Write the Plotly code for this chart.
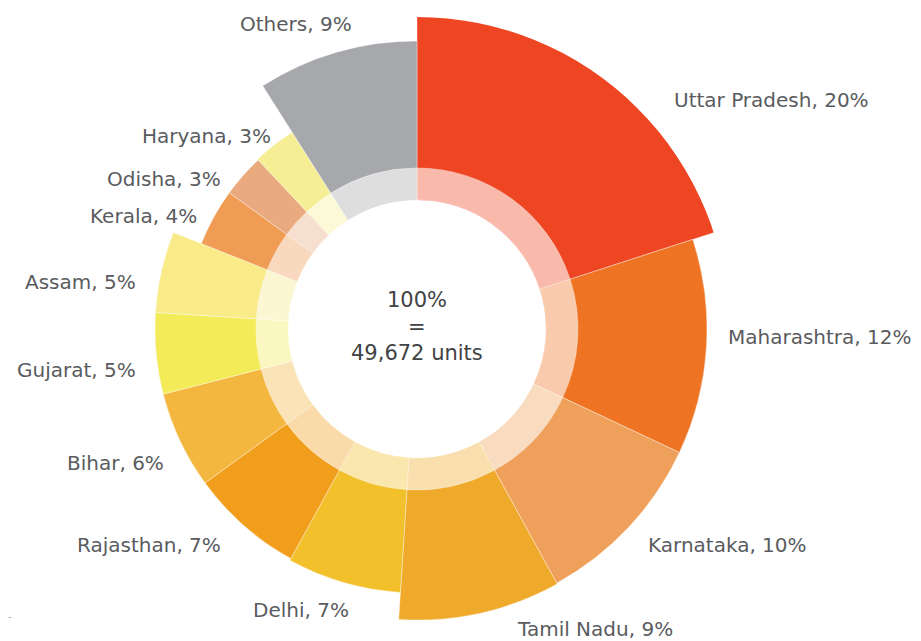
import plotly.graph_objects as go

# ---- data ----
states = ["Uttar Pradesh", "Maharashtra", "Karnataka", "Tamil Nadu", "Delhi",
          "Rajasthan", "Bihar", "Gujarat", "Assam", "Kerala", "Odisha",
          "Haryana", "Others"]
shares = [20, 12, 10, 9, 7, 7, 6, 5, 5, 4, 3, 3, 9]
tier_radius = [315, 290, 290, 291, 264, 262, 262, 262, 262, 232, 232, 233, 288]
colors = ["#EE4622", "#EE7322", "#EFA05A", "#F0AA2B", "#F2C02A", "#F19E1D",
          "#F3B63F", "#F4EB58", "#F8EB88", "#F09C55", "#E8AA7E", "#F6EE94",
          "#A7A8AC"]
total_units = "49,672"

# ---- geometry / style ----
W, H = 921, 641
CX, CY = 417, 329          # chart centre, px from top-left
R_MAX = 312
HOLE = 129
RING_OUT = 161
TINT = 0.62


def tint(hexc, t):
    hexc = hexc.lstrip("#")
    r, g, b = (int(hexc[i:i + 2], 16) for i in (0, 2, 4))
    r, g, b = (round(c + (255 - c) * t) for c in (r, g, b))
    return f"rgb({r},{g},{b})"


widths = [s * 3.6 for s in shares]
mids = []
acc = 0.0
for w in widths:
    mids.append(acc + w / 2)
    acc += w

fig = go.Figure()
fig.add_trace(go.Barpolar(
    theta=mids, width=widths,
    base=[HOLE] * len(states),
    r=[t - HOLE for t in tier_radius],
    marker=dict(color=colors, line=dict(width=0.6, color="rgba(255,255,255,0.6)")),
    hoverinfo="skip", showlegend=False))
fig.add_trace(go.Barpolar(
    theta=mids, width=widths,
    base=[HOLE] * len(states),
    r=[RING_OUT - HOLE] * len(states),
    marker=dict(color=[tint(c, TINT) for c in colors],
                line=dict(width=0.6, color="rgba(255,255,255,0.6)")),
    hoverinfo="skip", showlegend=False))

dom_x = [(CX - R_MAX) / W, (CX + R_MAX) / W]
dom_y = [(H - CY - R_MAX) / H, (H - CY + R_MAX) / H]

fig.update_layout(
    width=W, height=H,
    margin=dict(l=0, r=0, t=0, b=0),
    paper_bgcolor="white",
    polar=dict(
        domain=dict(x=dom_x, y=dom_y),
        bgcolor="white",
        bargap=0,
        angularaxis=dict(rotation=90, direction="clockwise", visible=False,
                         showgrid=False),
        radialaxis=dict(range=[0, R_MAX], visible=False, showgrid=False),
    ),
)

# ---- labels (layout positions in px) ----
label_pos = {
    "Uttar Pradesh": (672, 100, "left"),
    "Maharashtra": (726, 337, "left"),
    "Karnataka": (646, 545, "left"),
    "Tamil Nadu": (515, 629, "left"),
    "Delhi": (351, 610, "right"),
    "Rajasthan": (223, 545, "right"),
    "Bihar": (166, 463, "right"),
    "Gujarat": (138, 370, "right"),
    "Assam": (138, 282, "right"),
    "Kerala": (199, 216, "right"),
    "Odisha": (223, 179, "right"),
    "Haryana": (273, 136, "right"),
    "Others": (354, 24, "right"),
}
FONT = "DejaVu Sans"
for s, p in zip(states, shares):
    x, y, anc = label_pos[s]
    fig.add_annotation(x=x / W, y=1 - y / H, xref="paper", yref="paper",
                       text=f"{s}, {p}%", showarrow=False, xanchor=anc,
                       yanchor="middle",
                       font=dict(family=FONT, size=20, color="#5A5B5E"))

for txt, y in [("100%", 300), ("=", 327), (f"{total_units} units", 353)]:
    fig.add_annotation(x=CX / W, y=1 - y / H, xref="paper", yref="paper",
                       text=txt, showarrow=False, xanchor="center",
                       yanchor="middle",
                       font=dict(family=FONT, size=21, color="#414244"))

fig.add_annotation(x=10 / W, y=1 - 616 / H, xref="paper", yref="paper",
                   text="-", showarrow=False, xanchor="center", yanchor="middle",
                   font=dict(family=FONT, size=10, color="#B0B0B0"))

fig.write_html("out.html", config={"displayModeBar": False},
               post_script="document.body.style.margin='0';")
